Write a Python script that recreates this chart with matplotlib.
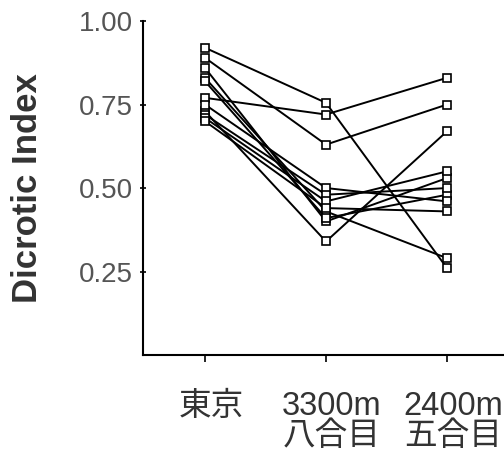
import matplotlib.pyplot as plt
from matplotlib.transforms import ScaledTranslation

plt.rcParams['font.family'] = ['Liberation Sans', 'Noto Sans CJK JP']

# site labels
sites = ['東京', '3300m\n八合目', '2400m\n五合目']

# dicrotic index per subject: Tokyo, 3300m, 2400m
tokyo = [0.92, 0.89, 0.77, 0.73, 0.86, 0.83, 0.82, 0.75, 0.72, 0.71, 0.70]
m3300 = [0.755, 0.63, 0.72, 0.34, 0.40, 0.43, 0.41, 0.50, 0.48, 0.46, 0.44]
m2400 = [0.26, 0.75, 0.83, 0.67, 0.53, 0.29, 0.48, 0.46, 0.50, 0.55, 0.43]

fig = plt.figure(figsize=(5.04, 4.66), dpi=100)
ax = fig.add_axes([0.284, 0.238, 0.716, 0.717])

xs = [0, 1, 2]
for a, b, c in zip(tokyo, m3300, m2400):
    ax.plot(xs, [a, b, c], color='black', lw=1.4, marker='s', ms=6,
            mfc='white', mec='black', mew=1.2)

ax.set_xlim(-0.51, 2.47)
ax.set_ylim(0, 1.0)
ax.set_yticks([0.25, 0.5, 0.75, 1.0])
ax.set_yticklabels(['0.25', '0.50', '0.75', '1.00'])
ax.set_xticks(xs)
ax.set_xticklabels(sites, fontsize=23.5, color='#333333', linespacing=0.95)

ax.tick_params(axis='y', direction='inout', length=5, width=1.2, pad=5,
               labelsize=20, labelcolor='#555555')
ax.tick_params(axis='x', direction='out', length=5, width=1.2, pad=21)

# nudge the site labels a little to the right, as in the original
shift = ScaledTranslation(6 / 100, 0, fig.dpi_scale_trans)
for lab in ax.get_xticklabels():
    lab.set_transform(lab.get_transform() + shift)

for s in ['top', 'right']:
    ax.spines[s].set_visible(False)
for s in ['left', 'bottom']:
    ax.spines[s].set_linewidth(1.5)

ax.set_ylabel('Dicrotic Index', fontsize=25, fontweight='bold', color='#333333', labelpad=25)

fig.savefig('out.png')
